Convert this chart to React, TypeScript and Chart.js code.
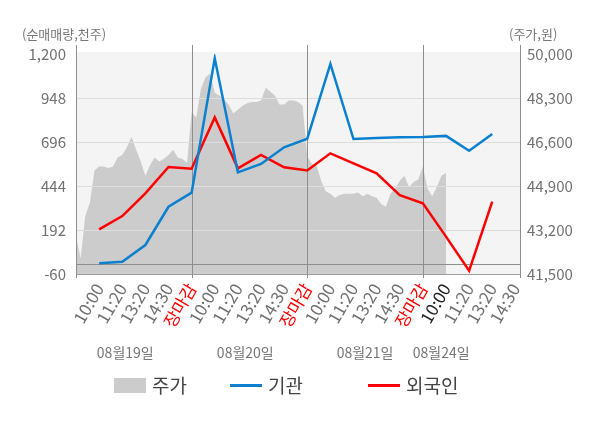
import { useEffect, useRef } from 'react'
import { Chart, registerables } from 'chart.js'

Chart.register(...registerables)

const xLabels = [
  '10:00', '11:20', '13:20', '14:30', '장마감',
  '10:00', '11:20', '13:20', '14:30', '장마감',
  '10:00', '11:20', '13:20', '14:30', '장마감',
  '10:00', '11:20', '13:20', '14:30',
]
const closeLabel = '장마감'
const currentIndex = 15
const xMax = 19.2

const dateLabels = ['08월19일', '08월20일', '08월21일', '08월24일']
const datePositions = [2.13, 7.32, 12.5, 15.79]

const leftTicks = [-60, 192, 444, 696, 948, 1200]
const rightTicks = [41500, 43200, 44900, 46600, 48300, 50000]

// 주가: sampled every 0.2 slot
const priceStep = 0.2
const priceDay1 = [42950, 42100, 43750, 44250, 45500, 45650, 45650, 45600, 45650, 46000, 46100, 46400, 46800, 46300, 45850, 45300, 45700, 46000, 45850, 45950, 46100, 46300, 46000, 45950, 45800]
const priceDay2 = [47750, 47550, 48650, 49100, 49250, 48500, 48400, 48250, 48050, 47700, 47850, 48000, 48100, 48150, 48150, 48200, 48700, 48550, 48400, 48050, 48050, 48200, 48200, 48150, 48000]
const priceDay3 = [46050, 45750, 45700, 45100, 44700, 44600, 44450, 44550, 44600, 44600, 44600, 44650, 44500, 44600, 44500, 44450, 44200, 44100, 44600, 44800, 45100, 45300, 44850, 45050, 45150]
const priceDay4 = [45650, 44800, 44500, 44850, 45300, 45400]

// 순매매량 (천주), one value per slot
const institution = [1, 10, 106, 325, 406, 1175, 522, 570, 666, 715, 1143, 713, 719, 723, 725, 731, 646, 742]
const foreign = [196, 272, 402, 553, 543, 837, 545, 622, 551, 533, 631, 573, 517, 392, 345, 154, -41, 354]

const BLUE = '#0a80cf'
const RED = '#ff0000'
const AREA = '#cccccc'
const FONT = "'Noto Sans CJK KR', 'Noto Sans', sans-serif"

const framePlugin = {
  id: 'frame',
  beforeDatasetsDraw(chart: any) {
    const { ctx, chartArea } = chart
    const { left, right, top, bottom } = chartArea
    ctx.save()
    ctx.fillStyle = '#f4f4f4'
    ctx.fillRect(left, top - 2, right - left, bottom - top + 2)
    ctx.restore()
  },
  afterDatasetDraw(chart: any, args: any) {
    if (args.index !== 0) return
    const { ctx, chartArea, scales } = chart
    const { left, right, top, bottom } = chartArea
    const px = (v: number) => Math.round(v) + 0.5
    ctx.save()
    ctx.lineWidth = 1
    ctx.strokeStyle = '#dddddd'
    leftTicks.slice(1, -1).forEach(v => {
      const y = px(scales.y.getPixelForValue(v))
      ctx.beginPath(); ctx.moveTo(left, y); ctx.lineTo(right, y); ctx.stroke()
    })
    ctx.strokeStyle = '#8e8e8e'
    const zy = px(scales.y.getPixelForValue(0))
    ctx.beginPath(); ctx.moveTo(left, zy); ctx.lineTo(right, zy); ctx.stroke()
    ctx.strokeStyle = '#a0a0a0'
    const by = px(bottom)
    ctx.beginPath(); ctx.moveTo(left, by); ctx.lineTo(right, by); ctx.stroke()
    const verticals = [0, xMax]
    xLabels.forEach((l, i) => { if (l === closeLabel) verticals.push(i + 1) })
    ctx.strokeStyle = '#8e8e8e'
    verticals.forEach(v => {
      const x = px(scales.x.getPixelForValue(v))
      ctx.beginPath(); ctx.moveTo(x, top - 9); ctx.lineTo(x, bottom + 4); ctx.stroke()
    })
    ctx.restore()
  },
  afterDraw(chart: any) {
    const { ctx, scales } = chart
    ctx.save()
    ctx.textBaseline = 'middle'
    ctx.fillStyle = '#777777'
    ctx.font = `13px ${FONT}`
    ctx.textAlign = 'left'
    ctx.fillText('(순매매량,천주)', 22, 34)
    ctx.fillText('(주가,원)', 509, 34)

    ctx.font = `14px ${FONT}`
    ctx.textAlign = 'center'
    dateLabels.forEach((d, i) => {
      ctx.fillText(d, scales.x.getPixelForValue(datePositions[i]), 353)
    })

    const items = [
      { label: '주가', color: AREA, kind: 'box', x: 114 },
      { label: '기관', color: BLUE, kind: 'line', x: 230 },
      { label: '외국인', color: RED, kind: 'line', x: 368 },
    ]
    ctx.font = `19px ${FONT}`
    ctx.textAlign = 'left'
    items.forEach(it => {
      ctx.fillStyle = it.color
      if (it.kind === 'box') ctx.fillRect(it.x, 378, 32, 15)
      else ctx.fillRect(it.x, 384, 32, 3)
      ctx.fillStyle = '#444444'
      ctx.fillText(it.label, it.x + 38, 386)
    })
    ctx.restore()
  },
}

export default function App() {
  const chartRef = useRef<HTMLCanvasElement>(null)
  const chartInstance = useRef<Chart | null>(null)

  useEffect(() => {
    document.body.style.margin = '0'
    if (!chartRef.current) return
    if (chartInstance.current) chartInstance.current.destroy()

    const ctx = chartRef.current.getContext('2d')
    if (!ctx) return

    Chart.defaults.font.family = FONT

    const prices = [...priceDay1, ...priceDay2, ...priceDay3, ...priceDay4]
    const priceData = prices.map((p, i) => ({ x: i * priceStep, y: p }))
    const instData = institution.map((v, i) => ({ x: i + 1, y: v }))
    const foreignData = foreign.map((v, i) => ({ x: i + 1, y: v }))

    chartInstance.current = new Chart(ctx, {
      type: 'line',
      data: {
        datasets: [
          {
            label: '주가',
            data: priceData,
            yAxisID: 'y1',
            borderWidth: 0,
            borderColor: AREA,
            backgroundColor: AREA,
            fill: 'start',
            pointRadius: 0,
            tension: 0,
            order: 3,
          },
          {
            label: '외국인',
            data: foreignData,
            yAxisID: 'y',
            borderColor: RED,
            borderWidth: 2.5,
            pointRadius: 0,
            fill: false,
            tension: 0,
            order: 2,
          },
          {
            label: '기관',
            data: instData,
            yAxisID: 'y',
            borderColor: BLUE,
            borderWidth: 2.5,
            pointRadius: 0,
            fill: false,
            tension: 0,
            order: 1,
          },
        ],
      },
      options: {
        responsive: true,
        maintainAspectRatio: false,
        animation: false,
        layout: { padding: { top: 54, left: 0, right: 0, bottom: 0 } },
        plugins: {
          legend: { display: false },
          tooltip: { enabled: false },
        },
        scales: {
          x: {
            type: 'linear',
            min: 0,
            max: xMax,
            afterBuildTicks: (s: any) => { s.ticks = xLabels.map((_, i) => ({ value: i + 1 })) },
            afterFit: (s: any) => { s.height = 154 },
            grid: { display: false, drawTicks: false },
            border: { display: false },
            ticks: {
              autoSkip: false,
              minRotation: 60,
              maxRotation: 60,
              padding: 6,
              font: { size: 17 },
              color: (c: any) => {
                if (xLabels[c.index] === closeLabel) return RED
                if (c.index === currentIndex) return '#222222'
                return '#707070'
              },
              callback: (_v: any, i: number) => xLabels[i],
            },
          },
          y: {
            type: 'linear',
            position: 'left',
            min: leftTicks[0],
            max: leftTicks[leftTicks.length - 1],
            afterBuildTicks: (s: any) => { s.ticks = leftTicks.map(value => ({ value })) },
            afterFit: (s: any) => { s.width = 76 },
            grid: { display: false, drawTicks: false },
            border: { display: false },
            ticks: {
              padding: 10,
              color: '#707070',
              font: { size: 15 },
              callback: (v: any) => Number(v).toLocaleString('en-US'),
            },
          },
          y1: {
            type: 'linear',
            position: 'right',
            min: rightTicks[0],
            max: rightTicks[rightTicks.length - 1],
            afterBuildTicks: (s: any) => { s.ticks = rightTicks.map(value => ({ value })) },
            afterFit: (s: any) => { s.width = 80 },
            grid: { display: false, drawTicks: false },
            border: { display: false },
            ticks: {
              padding: 7,
              color: '#707070',
              font: { size: 15 },
              callback: (v: any) => Number(v).toLocaleString('en-US'),
            },
          },
        },
      },
      plugins: [framePlugin],
    })

    return () => {
      if (chartInstance.current) {
        chartInstance.current.destroy()
        chartInstance.current = null
      }
    }
  }, [])

  return (
    <div style={{ position: 'relative', width: 600, height: 428 }}>
      <canvas ref={chartRef} />
    </div>
  )
}
